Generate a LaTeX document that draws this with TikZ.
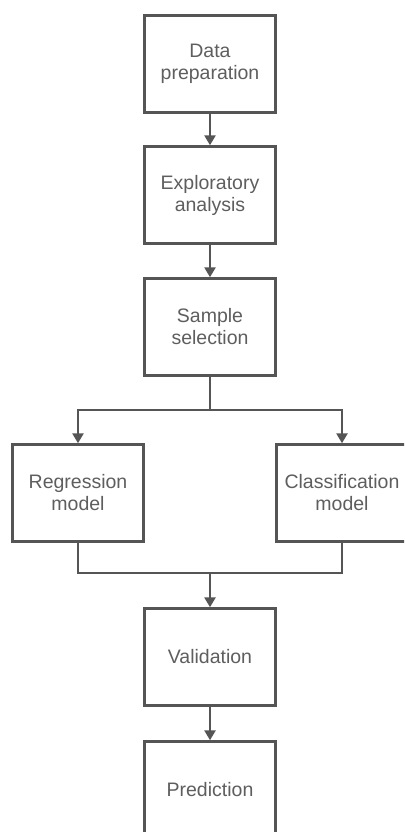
\documentclass[tikz,border=0pt]{standalone}
\usepackage{fontspec}
\setmainfont{Liberation Sans}
\usetikzlibrary{arrows.meta}
\definecolor{linegray}{HTML}{555555}
\definecolor{textgray}{HTML}{5E5E5E}
\tikzset{
  flowbox/.style={draw=linegray, line width=2.4pt, fill=white, minimum width=131pt, minimum height=97pt,
    inner sep=0pt, align=center, text=textgray, font=\fontsize{19.5}{22}\selectfont},
  flowline/.style={draw=linegray, line width=2.4pt},
  flowarr/.style={flowline, -{Triangle[width=11pt,length=10pt]}}
}
\begin{document}
\begin{tikzpicture}[x=1pt,y=-1pt]
\useasboundingbox (0,0) rectangle (404,832);
\clip (0,0) rectangle (404,832);
\node[flowbox] (prep) at (210,64) {Data\\preparation};
\node[flowbox] (expl) at (210,195) {Exploratory\\analysis};
\node[flowbox] (samp) at (210,327) {Sample\\selection};
\node[flowbox] (reg) at (78,493) {Regression\\model};
\node[flowbox] (cls) at (342,493) {Classification\\model};
\node[flowbox] (val) at (210,657) {Validation};
\node[flowbox] (pred) at (210,790) {Prediction};
\coordinate (split) at (210,410);
\coordinate (merge) at (210,573);
\draw[flowarr] (prep.south) -- (expl.north);
\draw[flowarr] (expl.south) -- (samp.north);
\draw[flowline] (samp.south) -- (split);
\draw[flowarr] (split) -| (reg.north);
\draw[flowarr] (split) -| (cls.north);
\draw[flowline] (reg.south) |- (merge) -| (cls.south);
\draw[flowarr] (merge) -- (val.north);
\draw[flowarr] (val.south) -- (pred.north);
\end{tikzpicture}
\end{document}
